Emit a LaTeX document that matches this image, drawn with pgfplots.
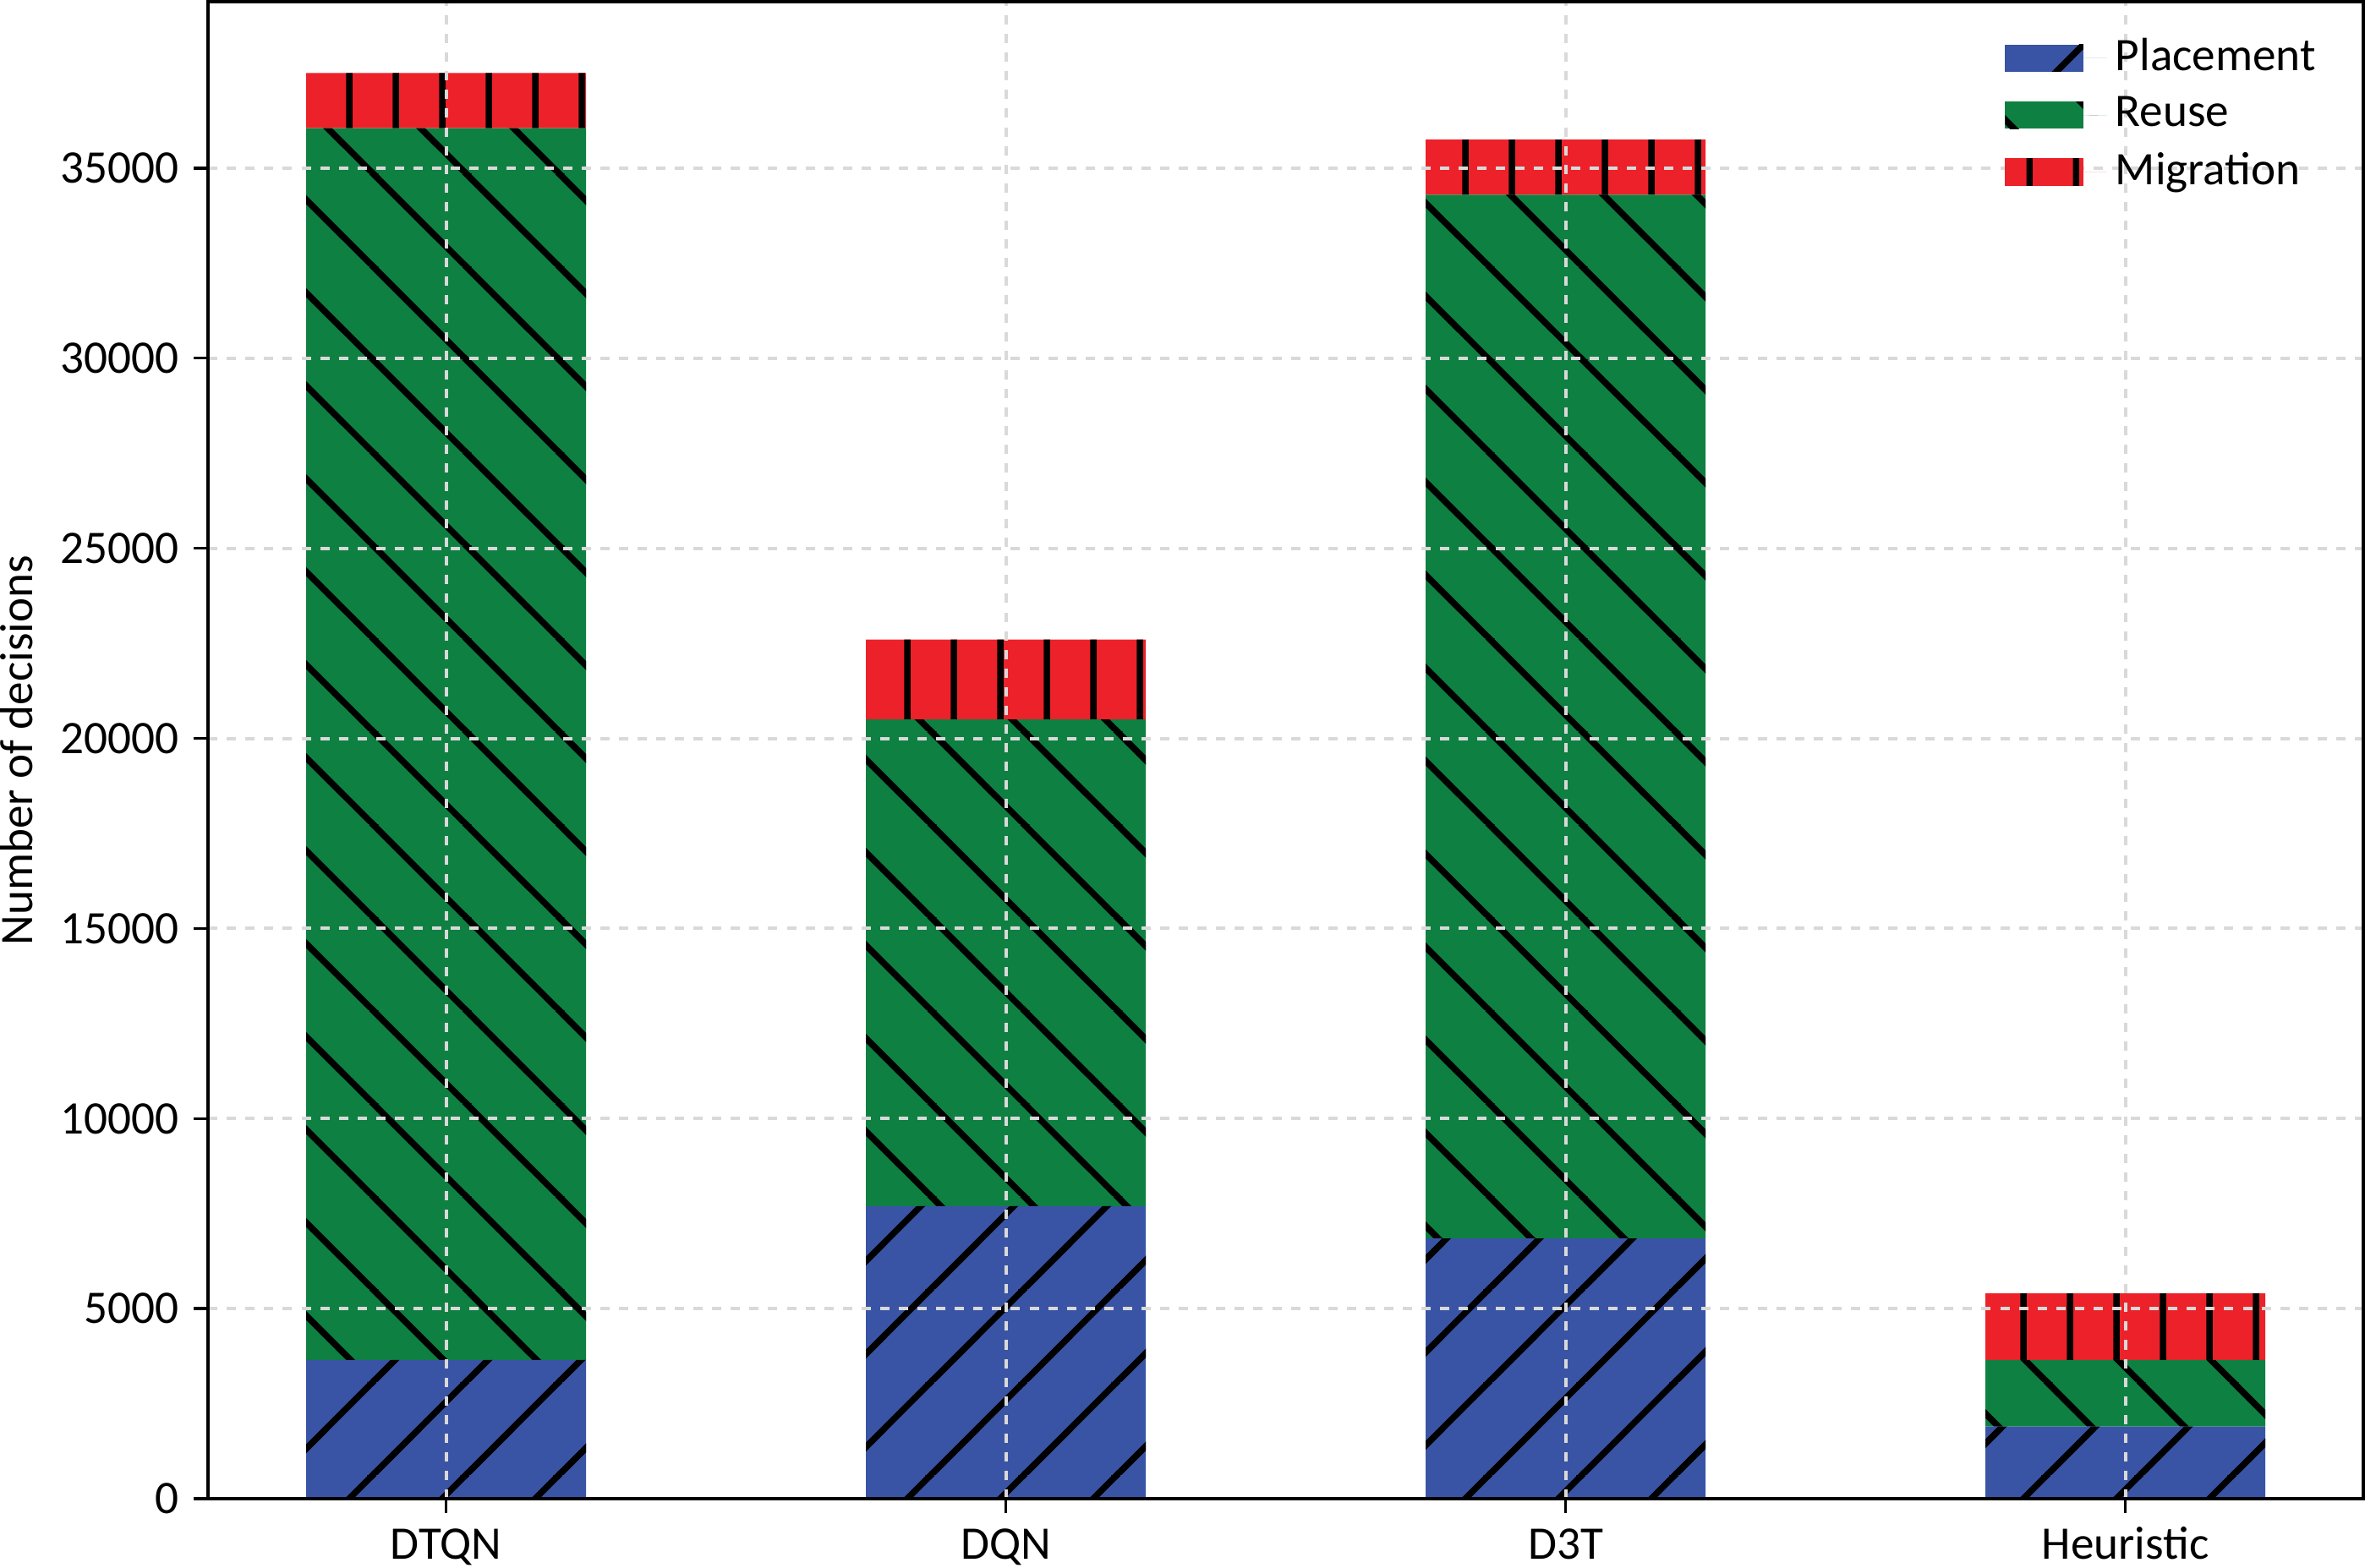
\documentclass[border=0pt]{standalone}
\usepackage{pgfplots}
\pgfplotsset{compat=1.18}
\usepackage{fontspec}
\setmainfont{Carlito}
\usetikzlibrary{patterns.meta}

\definecolor{cblue}{RGB}{57,84,165}
\definecolor{cgreen}{RGB}{14,128,65}
\definecolor{cred}{RGB}{237,33,41}

% hatches like matplotlib's '/', '\\' and '|'
\pgfdeclarepattern{
  name=hatchNE,
  bottom left={\pgfpoint{0pt}{0pt}},
  top right={\pgfpoint{22pt}{22pt}},
  tile size={\pgfpoint{22pt}{22pt}},
  code={
    \pgfsetlinewidth{1.5pt}
    \pgfpathmoveto{\pgfpoint{-2pt}{-2pt}}\pgfpathlineto{\pgfpoint{24pt}{24pt}}
    \pgfpathmoveto{\pgfpoint{-2pt}{20pt}}\pgfpathlineto{\pgfpoint{2pt}{24pt}}
    \pgfpathmoveto{\pgfpoint{20pt}{-2pt}}\pgfpathlineto{\pgfpoint{24pt}{2pt}}
    \pgfusepath{stroke}
  }
}
\pgfdeclarepattern{
  name=hatchNW,
  bottom left={\pgfpoint{0pt}{0pt}},
  top right={\pgfpoint{22pt}{22pt}},
  tile size={\pgfpoint{22pt}{22pt}},
  code={
    \pgfsetlinewidth{1.5pt}
    \pgfpathmoveto{\pgfpoint{-2pt}{24pt}}\pgfpathlineto{\pgfpoint{24pt}{-2pt}}
    \pgfpathmoveto{\pgfpoint{-2pt}{2pt}}\pgfpathlineto{\pgfpoint{2pt}{-2pt}}
    \pgfpathmoveto{\pgfpoint{20pt}{24pt}}\pgfpathlineto{\pgfpoint{24pt}{20pt}}
    \pgfusepath{stroke}
  }
}
\pgfdeclarepattern{
  name=hatchV,
  bottom left={\pgfpoint{0pt}{0pt}},
  top right={\pgfpoint{11pt}{11pt}},
  tile size={\pgfpoint{11pt}{11pt}},
  code={
    \pgfsetlinewidth{1.5pt}
    \pgfpathmoveto{\pgfpoint{5.5pt}{-1pt}}\pgfpathlineto{\pgfpoint{5.5pt}{12pt}}
    \pgfusepath{stroke}
  }
}

\begin{document}
\begin{tikzpicture}
\begin{axis}[
    scale only axis,
    width=508pt, height=353pt,
    ybar stacked,
    bar width=0.5,
    xmin=-0.425, xmax=3.425,
    ymin=0, ymax=39375,
    xtick={0,1,2,3},
    xticklabels={DTQN,DQN,D3T,Heuristic},
    ytick distance=5000,
    scaled y ticks=false,
    /pgf/number format/.cd, 1000 sep={}, assume math mode=true,
    /pgfplots/.cd,
    tick align=outside,
    xtick pos=bottom, ytick pos=left,
    major tick length=3.4pt,
    tick style={black, line width=0.7pt},
    axis line style={black, line width=0.7pt},
    grid=major,
    major grid style={color=gray!30, line width=0.8pt, dash pattern=on 2.2pt off 2.2pt},
    axis on top,
    ylabel={Number of decisions},
    ylabel style={inner sep=0pt},
    ylabel shift=3pt,
    tick label style={font=\fontsize{11}{13}\selectfont},
    xticklabel style={inner ysep=0pt, text height=7.2pt, text depth=2pt},
    xticklabel shift=3.4pt,
    label style={font=\fontsize{11}{13}\selectfont},
    legend style={at={(1,1)}, anchor=north east, xshift=-6pt, yshift=-4.5pt,
        draw=none, fill=none, font=\fontsize{11}{13}\selectfont,
        row sep=0.6pt},
    legend cell align=left,
    legend image code/.code={
        \fill[#1] (0pt,-3.2pt) rectangle (18.4pt,3.2pt);
        \path (0pt,0pt) -- (24pt,0pt);},
]
\addplot[fill=cblue, draw=none, postaction={pattern=hatchNE}]
    coordinates {(0,3650) (1,7700) (2,6850) (3,1900)};
\addlegendentry{Placement}
\addplot[fill=cgreen, draw=none, postaction={pattern=hatchNW}]
    coordinates {(0,32400) (1,12800) (2,27450) (3,1750)};
\addlegendentry{Reuse}
\addplot[fill=cred, draw=none, postaction={pattern=hatchV}]
    coordinates {(0,1450) (1,2100) (2,1450) (3,1750)};
\addlegendentry{Migration}
\end{axis}
\end{tikzpicture}
\end{document}
